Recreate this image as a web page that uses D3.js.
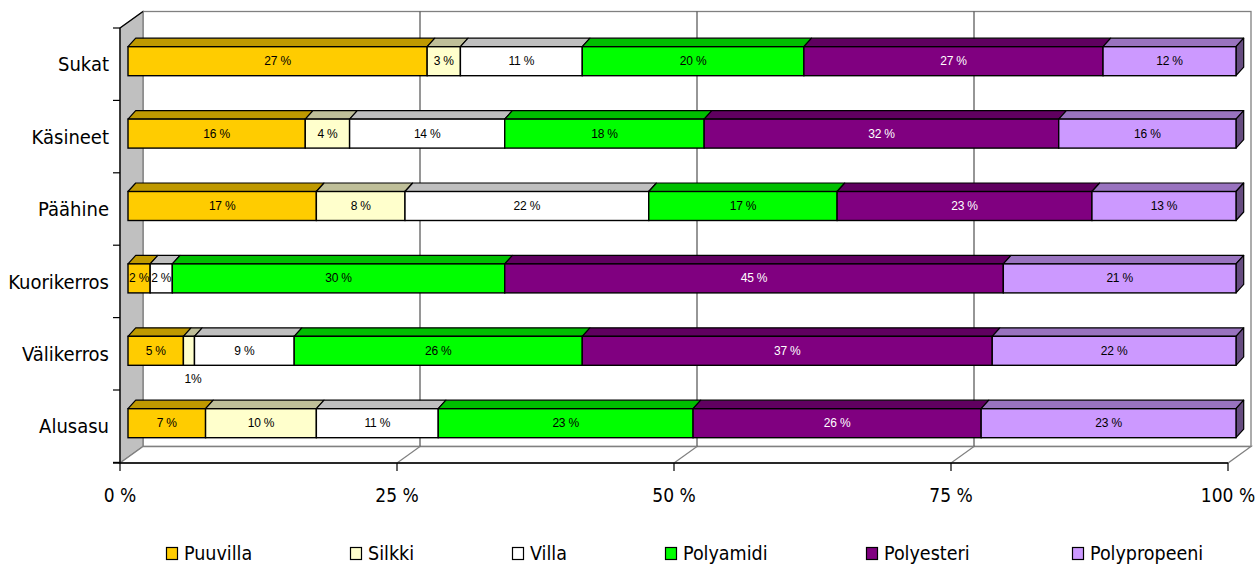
<!DOCTYPE html>
<html>
<head>
<meta charset="utf-8">
<script src="https://cdn.jsdelivr.net/npm/d3@7/dist/d3.min.js"></script>
<style>
  html, body { margin: 0; padding: 0; background: #fff; }
  svg { display: block; }
  .cat, .tick-label, .legend-label {
    font-family: "DejaVu Sans Condensed", "DejaVu Sans", sans-serif;
    font-stretch: condensed;
    fill: #000;
  }
  .cat { font-size: 20px; }
  .tick-label { font-size: 19px; }
  .legend-label { font-size: 19.5px; }
  .val { font-family: "Liberation Sans", Arial, sans-serif; font-size: 12px; letter-spacing: -0.2px; }
</style>
</head>
<body>
<svg id="chart" width="1258" height="566"></svg>
<script>
// Fibre shares per garment layer (percent)
const categories = ["Sukat", "Käsineet", "Päähine", "Kuorikerros", "Välikerros", "Alusasu"];
const seriesNames = ["Puuvilla", "Silkki", "Villa", "Polyamidi", "Polyesteri", "Polypropeeni"];
const puuvilla     = [27, 16, 17,  2,  5,  7];
const silkki       = [ 3,  4,  8,  0,  1, 10];
const villa        = [11, 14, 22,  2,  9, 11];
const polyamidi    = [20, 18, 17, 30, 26, 23];
const polyesteri   = [27, 32, 23, 45, 37, 26];
const polypropeeni = [12, 16, 13, 21, 22, 23];
const tickValues = [0, 25, 50, 75, 100];
const tickLabels = ["0 %", "25 %", "50 %", "75 %", "100 %"];

// Face colours: front, top (shaded), side (darker)
const frontColors = ["#FFCC00", "#FFFFCC", "#FFFFFF", "#00FF00", "#800080", "#CC99FF"];
const topColors   = ["#BF9900", "#BFBF99", "#BFBFBF", "#00BF00", "#600060", "#9973BF"];
const sideColors  = ["#806600", "#808066", "#808080", "#008000", "#400040", "#664C80"];
const labelColors = ["#000", "#000", "#000", "#000", "#fff", "#000"];

const seriesValues = [puuvilla, silkki, villa, polyamidi, polyesteri, polypropeeni];
const rows = categories.map((c, i) => {
  const r = { category: c };
  seriesNames.forEach((s, j) => { r[s] = seriesValues[j][i]; });
  return r;
});
const stacked = d3.stack().keys(seriesNames)(rows);

const svg = d3.select("#chart");

// Front plane scales
const x = d3.scaleLinear().domain([0, 100]).range([120, 1228]);
const y = d3.scaleBand().domain(categories).range([28, 462.4]);
const floorY = 463;
const wall = { dx: 23, dy: -16.5 };     // depth of the plot box
const bar = { dx: 7.7, dy: -8.5, inset: 8, top: 18.7, h: 29 };

const pts = a => a.map(p => p.join(",")).join(" ");

// Back wall
svg.append("rect")
  .attr("x", x(0) + wall.dx).attr("y", y.range()[0] + wall.dy)
  .attr("width", x(100) - x(0)).attr("height", floorY - y.range()[0])
  .attr("fill", "#fff").attr("stroke", "#808080").attr("stroke-width", 1.3);

// Side wall
svg.append("polygon")
  .attr("points", pts([[x(0), y.range()[0]], [x(0) + wall.dx, y.range()[0] + wall.dy],
                       [x(0) + wall.dx, floorY + wall.dy], [x(0), floorY]]))
  .attr("fill", "#C0C0C0").attr("stroke", "#808080").attr("stroke-width", 1.3);
svg.append("line")
  .attr("x1", x(0)).attr("y1", y.range()[0]).attr("x2", x(0) + wall.dx).attr("y2", y.range()[0] + wall.dy)
  .attr("stroke", "#000").attr("stroke-width", 1.2);

// Floor
svg.append("polygon")
  .attr("points", pts([[x(0), floorY], [x(0) + wall.dx, floorY + wall.dy],
                       [x(100) + wall.dx, floorY + wall.dy], [x(100), floorY]]))
  .attr("fill", "#fff").attr("stroke", "#808080").attr("stroke-width", 1.3);

// Gridlines on back wall and floor
const inner = tickValues.filter(t => t > 0 && t < 100);
svg.selectAll(".grid").data(inner).join("line")
  .attr("x1", d => x(d) + wall.dx).attr("x2", d => x(d) + wall.dx)
  .attr("y1", y.range()[0] + wall.dy).attr("y2", floorY + wall.dy)
  .attr("stroke", "#505050").attr("stroke-width", 1.2);
svg.selectAll(".floorgrid").data(inner).join("line")
  .attr("x1", d => x(d) + wall.dx).attr("y1", floorY + wall.dy)
  .attr("x2", d => x(d)).attr("y2", floorY)
  .attr("stroke", "#808080").attr("stroke-width", 1.2);

// Front axes
svg.append("line").attr("x1", x(0) - 7).attr("x2", x(100)).attr("y1", floorY).attr("y2", floorY)
  .attr("stroke", "#000").attr("stroke-width", 1.3);
svg.append("line").attr("x1", x(0)).attr("x2", x(0)).attr("y1", y.range()[0]).attr("y2", floorY)
  .attr("stroke", "#000").attr("stroke-width", 1.3);
const bandEdges = categories.map(c => y(c)).concat([y.range()[1]]);
svg.selectAll(".ytick").data(bandEdges).join("line")
  .attr("x1", x(0) - 7).attr("x2", x(0)).attr("y1", d => d).attr("y2", d => d)
  .attr("stroke", "#000").attr("stroke-width", 1.2);
svg.selectAll(".xtick").data(tickValues).join("line")
  .attr("x1", d => x(d)).attr("x2", d => x(d)).attr("y1", floorY).attr("y2", floorY + 8)
  .attr("stroke", "#000").attr("stroke-width", 1.2);

// Tick labels
svg.selectAll(".tick-label").data(tickValues).join("text")
  .attr("class", "tick-label")
  .attr("x", d => x(d)).attr("y", 502)
  .attr("text-anchor", "middle")
  .text((d, i) => tickLabels[i]);

// Category labels
svg.selectAll(".cat").data(categories).join("text")
  .attr("class", "cat")
  .attr("x", 109).attr("y", d => y(d) + y.bandwidth() / 2)
  .attr("dy", "0.36em")
  .attr("text-anchor", "end")
  .text(d => d);

// Bars: front face, top face, end face on the last segment
const gBars = svg.append("g");
stacked.forEach((layer, si) => {
  layer.forEach((seg, ci) => {
    const v = seg[1] - seg[0];
    if (v <= 0) return;
    const cat = categories[ci];
    const x0 = x(seg[0]) + bar.inset, x1 = x(seg[1]) + bar.inset;
    const top = y(cat) + bar.top, bot = top + bar.h;
    gBars.append("polygon")
      .attr("points", pts([[x0, top], [x0 + bar.dx, top + bar.dy], [x1 + bar.dx, top + bar.dy], [x1, top]]))
      .attr("fill", topColors[si]).attr("stroke", "#000").attr("stroke-width", 1.2)
      .attr("stroke-linejoin", "round");
    if (seg[1] >= 100) {
      gBars.append("polygon")
        .attr("points", pts([[x1, top], [x1 + bar.dx, top + bar.dy], [x1 + bar.dx, bot + bar.dy], [x1, bot]]))
        .attr("fill", sideColors[si]).attr("stroke", "#000").attr("stroke-width", 1.2)
        .attr("stroke-linejoin", "round");
    }
    gBars.append("rect")
      .attr("x", x0).attr("y", top).attr("width", x1 - x0).attr("height", bar.h)
      .attr("fill", frontColors[si]).attr("stroke", "#000").attr("stroke-width", 1.4);
  });
});

// Value labels (a very thin segment gets its label below the bar)
stacked.forEach((layer, si) => {
  layer.forEach((seg, ci) => {
    const v = seg[1] - seg[0];
    if (v <= 0) return;
    const cat = categories[ci];
    const cx = (x(seg[0]) + x(seg[1])) / 2 + bar.inset;
    const top = y(cat) + bar.top;
    const small = (x(seg[1]) - x(seg[0])) < 15;
    svg.append("text")
      .attr("class", "val")
      .attr("x", small ? cx + 4 : cx)
      .attr("y", small ? top + bar.h + 18 : top + 18.5)
      .attr("text-anchor", "middle")
      .attr("fill", small ? "#000" : labelColors[si])
      .text(small ? v + "%" : v + " %");
  });
});

// Legend
const legendX = [166, 350, 512, 665, 866, 1072];
const lg = svg.selectAll(".legend").data(seriesNames).join("g")
  .attr("transform", (d, i) => `translate(${legendX[i]},0)`);
lg.append("rect").attr("x", 0.5).attr("y", 547.5).attr("width", 11).attr("height", 12)
  .attr("fill", (d, i) => frontColors[i]).attr("stroke", "#000").attr("stroke-width", 1.2);
lg.append("text").attr("class", "legend-label")
  .attr("x", 18).attr("y", 560)
  .text(d => d);
</script>
</body>
</html>
